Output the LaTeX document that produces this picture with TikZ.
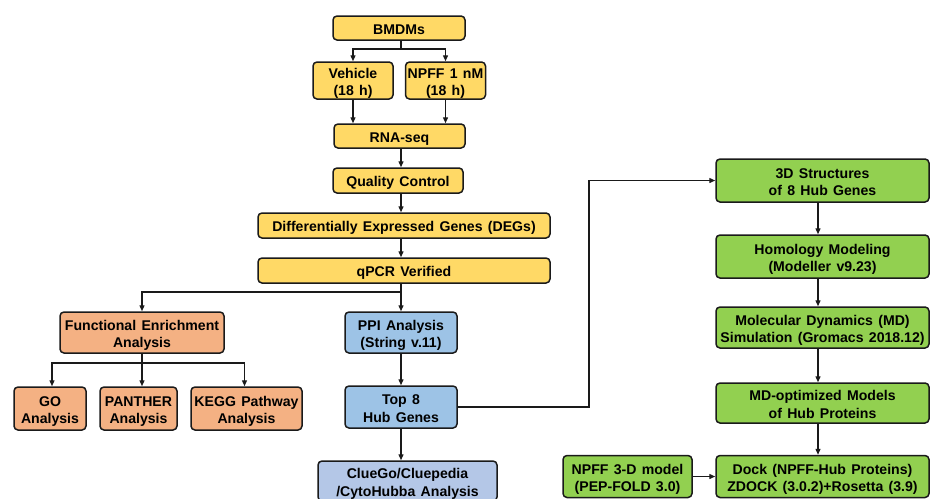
\documentclass[tikz,border=0pt]{standalone}
\usepackage{fontspec}
\setmainfont[WordSpace=1.35]{Liberation Sans}
\usetikzlibrary{arrows.meta}
\definecolor{boxyellow}{HTML}{FFD966}
\definecolor{boxorange}{HTML}{F4B183}
\definecolor{boxblue}{HTML}{9DC3E6}
\definecolor{boxlilac}{HTML}{B4C7E7}
\definecolor{boxgreen}{HTML}{92D050}
\definecolor{edge}{HTML}{1A1A1A}
\begin{document}
\begin{tikzpicture}[x=1pt,y=-1pt,
  box/.style={draw=edge, line width=1.5pt, rounded corners=4pt, align=center,
    font=\fontsize{14.1}{17.4}\selectfont\bfseries, inner sep=0pt},
  one/.style={text height=14pt, text depth=1.9pt},
  two/.style={text height=33pt, text depth=3pt},
  ybox/.style={box, fill=boxyellow},
  obox/.style={box, fill=boxorange},
  bbox/.style={box, fill=boxblue},
  lbox/.style={box, fill=boxlilac},
  gbox/.style={box, fill=boxgreen},
  flow/.style={draw=edge, line width=1.3pt, -{Triangle[length=6pt,width=5pt]}},
  link/.style={draw=edge, line width=1.3pt}
]
\useasboundingbox (0,0) rectangle (931,498);

% main pipeline (yellow)
\node[ybox, one, minimum width=132pt, minimum height=24pt] (bmdm) at (399,28) {BMDMs};
\node[ybox, two, minimum width=80pt, minimum height=37pt] (veh) at (353,80.5) {Vehicle\\(18 h)};
\node[ybox, two, minimum width=80pt, minimum height=37pt] (npff) at (445.5,80.5) {NPFF 1 nM\\(18 h)};
\node[ybox, one, minimum width=131pt, minimum height=24pt] (rna) at (399.5,136) {RNA-seq};
\node[ybox, one, minimum width=130pt, minimum height=25pt] (qc) at (398,180.5) {Quality Control};
\node[ybox, one, minimum width=292pt, minimum height=25pt] (deg) at (404,225.5) {Differentially Expressed Genes (DEGs)};
\node[ybox, one, minimum width=292pt, minimum height=25pt] (qpcr) at (404,270.5) {qPCR Verified};

% enrichment branch (orange)
\node[obox, two, minimum width=164pt, minimum height=41pt] (fea) at (142,332.5) {Functional Enrichment\\Analysis};
\node[obox, two, minimum width=72pt, minimum height=43pt] (go) at (50,408.5) {GO\\Analysis};
\node[obox, two, minimum width=77pt, minimum height=43pt] (panther) at (138.5,408.5) {PANTHER\\Analysis};
\node[obox, two, minimum width=111pt, minimum height=43pt] (kegg) at (246.5,408.5) {KEGG Pathway\\Analysis};

% network branch (blue)
\node[bbox, two, minimum width=112pt, minimum height=41pt] (ppi) at (401,332.5) {PPI Analysis\\(String v.11)};
\node[bbox, two, minimum width=112pt, minimum height=42pt] (top8) at (401,407) {Top 8\\Hub Genes};
\node[lbox, two, minimum width=179pt, minimum height=40pt] (clue) at (407.5,481) {ClueGo/Cluepedia\\/CytoHubba Analysis};

% structure branch (green)
\node[gbox, two, minimum width=213pt, minimum height=43pt] (s3d) at (822.5,180.5) {3D Structures\\of 8 Hub Genes};
\node[gbox, two, minimum width=213pt, minimum height=43pt] (homol) at (822.5,256.5) {Homology Modeling\\(Modeller v9.23)};
\node[gbox, two, minimum width=213pt, minimum height=41pt] (mdsim) at (822.5,327.5) {Molecular Dynamics (MD)\\Simulation (Gromacs 2018.12)};
\node[gbox, two, minimum width=213pt, minimum height=40pt] (mdopt) at (822.5,403) {MD-optimized Models\\of Hub Proteins};
\node[gbox, two, minimum width=213pt, minimum height=42pt] (dock) at (822.5,476.5) {Dock (NPFF-Hub Proteins)\\ZDOCK (3.0.2)+Rosetta (3.9)};
\node[gbox, two, minimum width=129pt, minimum height=42pt] (npff3d) at (627.5,476.5) {NPFF 3-D model\\(PEP-FOLD 3.0)};

% guide columns for the connectors
\coordinate (spine) at (401,0);
\coordinate (gcol) at (818,0);
\coordinate (bend) at (589,0);

% connectors of the main pipeline
\draw[link] (spine |- bmdm.south) -- (spine |- 0,49) coordinate (split1);
\draw[flow] (split1) -| (veh.north);
\draw[flow] (split1) -| (npff.north);
\draw[flow] (veh.south) -- (veh.south |- rna.north);
\draw[flow] (npff.south) -- (npff.south |- rna.north);
\draw[flow] (spine |- rna.south) -- (spine |- qc.north);
\draw[flow] (spine |- qc.south) -- (spine |- deg.north);
\draw[flow] (spine |- deg.south) -- (spine |- qpcr.north);
\draw[flow] (spine |- qpcr.south) -- (ppi.north);
\draw[flow] (spine |- 0,292) coordinate (split2) -| (fea.north);

% connectors of the enrichment branch
\draw[link] (fea.south) -- (fea.south |- 0,363) coordinate (split3);
\draw[flow] (split3) -| ([xshift=2pt]go.north);
\draw[flow] (split3) -- (split3 |- panther.north);
\draw[flow] (split3) -| ([xshift=-2pt]kegg.north);

% connectors of the network branch
\draw[flow] (ppi.south) -- (top8.north);
\draw[flow] (top8.south) -- (top8.south |- clue.north);
\draw[flow] (top8.east) -- (bend |- top8.east) -- (bend |- s3d.west) -- (s3d.west);

% connectors of the structure branch
\draw[flow] (gcol |- s3d.south) -- (gcol |- homol.north);
\draw[flow] (gcol |- homol.south) -- (gcol |- mdsim.north);
\draw[flow] (gcol |- mdsim.south) -- (gcol |- mdopt.north);
\draw[flow] (gcol |- mdopt.south) -- (gcol |- dock.north);
\draw[flow] (npff3d.east) -- (dock.west);
\end{tikzpicture}
\end{document}
